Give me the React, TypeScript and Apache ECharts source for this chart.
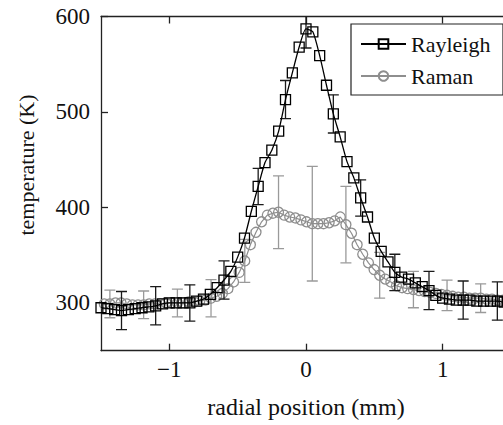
import React, { useEffect, useRef } from "react";
import * as echarts from "echarts";

// ---------- data ----------
const rayleighX = [
  -1.5, -1.45, -1.4, -1.35, -1.3, -1.25, -1.2, -1.15, -1.1, -1.05,
  -1.0, -0.95, -0.9, -0.85, -0.8, -0.75, -0.7, -0.65, -0.6, -0.55,
  -0.5, -0.45, -0.4, -0.35, -0.3, -0.25, -0.2, -0.15, -0.1, -0.05,
  0, 0.05, 0.1, 0.15, 0.2, 0.25, 0.3, 0.35, 0.4, 0.45,
  0.5, 0.55, 0.6, 0.65, 0.7, 0.75, 0.8, 0.85, 0.9, 0.95,
  1.0, 1.05, 1.1, 1.15, 1.2, 1.25, 1.3, 1.35, 1.4, 1.45, 1.5,
];
const rayleighT = [
  295, 294, 293, 292, 293, 294, 295, 296, 297, 299,
  300, 300, 300, 300, 302, 304, 309, 316, 324, 333,
  348, 368, 396, 422, 447, 460, 480, 513, 541, 568,
  587, 584, 559, 528, 498, 474, 448, 431, 410, 390,
  368, 354, 343, 332, 327, 325, 321, 317, 313, 308,
  305, 304, 303, 303, 303, 302, 302, 302, 302, 301, 301,
];
const rayleighErrIdx = [3, 8, 13, 18, 23, 27, 30, 34, 38, 43, 48, 53, 58];
const rayleighErr = [20, 20, 19, 20, 19, 20, 20, 20, 19, 19, 20, 20, 20];

const ramanX = [
  -1.476, -1.435, -1.394, -1.353, -1.312, -1.27, -1.229, -1.188, -1.147, -1.106,
  -1.065, -1.024, -0.983, -0.941, -0.9, -0.859, -0.818, -0.777, -0.736, -0.695,
  -0.654, -0.612, -0.571, -0.53, -0.489, -0.448, -0.407, -0.366, -0.325, -0.283,
  -0.242, -0.201, -0.16, -0.119, -0.078, -0.037, 0.004, 0.046, 0.087, 0.128,
  0.169, 0.21, 0.251, 0.292, 0.333, 0.374, 0.415, 0.457, 0.498, 0.539,
  0.58, 0.621, 0.662, 0.703, 0.744, 0.786, 0.827, 0.868, 0.909, 0.95,
  0.991, 1.032, 1.073, 1.114, 1.155, 1.196, 1.237, 1.278, 1.32, 1.361,
  1.402, 1.443, 1.484,
];
const ramanT = [
  299, 299, 300, 300, 299, 298, 298, 298, 299, 299,
  299, 300, 300, 300, 300, 301, 301, 302, 303, 305,
  307, 310, 315, 322, 332, 344, 361, 374, 385, 392,
  394, 395, 392, 390, 389, 387, 385, 383, 383, 383,
  384, 386, 390, 382, 373, 361, 351, 342, 335, 329,
  325, 322, 318, 316, 315, 314, 313, 312, 311, 310,
  309, 308, 307, 306, 306, 305, 305, 305, 304, 304,
  303, 303, 302,
];
const ramanErrIdx = [1, 7, 13, 19, 25, 31, 37, 43, 49, 55, 61, 67];
const ramanErr = [14.5, 14.5, 14.5, 19.5, 22.5, 38, 60, 40, 24, 19, 16, 15];

const xTicks = [-1, 0, 1];
const yTicks = [300, 400, 500, 600];

const FONT = "'Liberation Serif', 'Times New Roman', 'DejaVu Serif', serif";
const W = 520;
const H = 425;

function errData(xs: number[], ys: number[], idx: number[], err: number[]) {
  return idx.map((i, k) => [xs[i], ys[i] - err[k], ys[i] + err[k]]);
}

function makeErrRender(color: string) {
  return (params: any, api: any) => {
    const x = api.value(0);
    const lo = api.coord([x, api.value(1)]);
    const hi = api.coord([x, api.value(2)]);
    const c = 5.5;
    const style = { stroke: color, lineWidth: 1.3 };
    return {
      type: "group",
      children: [
        { type: "line", shape: { x1: lo[0], y1: lo[1], x2: hi[0], y2: hi[1] }, style },
        { type: "line", shape: { x1: lo[0] - c, y1: lo[1], x2: lo[0] + c, y2: lo[1] }, style },
        { type: "line", shape: { x1: hi[0] - c, y1: hi[1], x2: hi[0] + c, y2: hi[1] }, style },
      ],
    };
  };
}

export default function App() {
  const ref = useRef<HTMLDivElement>(null);
  useEffect(() => {
    if (!ref.current) return;
    const chart = echarts.init(ref.current, null, { renderer: "svg" });
    const axisColor = "#222";
    const fmt = (v: number) => (v < 0 ? "\u2212" + Math.abs(v) : String(v));
    const xAxisBase = {
      type: "value",
      min: -1.5,
      max: 1.5,
      axisLine: { show: true, onZero: false, lineStyle: { color: axisColor, width: 1.3 } },
      axisTick: { show: true, inside: true, length: 7, customValues: xTicks, lineStyle: { color: axisColor, width: 1.3 } },
      splitLine: { show: false },
    };
    const yAxisBase = {
      type: "value",
      min: 250,
      max: 600,
      axisLine: { show: true, onZero: false, lineStyle: { color: axisColor, width: 1.3 } },
      axisTick: { show: true, inside: true, length: 7, customValues: yTicks, lineStyle: { color: axisColor, width: 1.3 } },
      splitLine: { show: false },
    };
    chart.setOption({
      animation: false,
      backgroundColor: "#ffffff",
      textStyle: { fontFamily: FONT },
      grid: {
        left: 101,
        top: 16.5,
        right: W - 511,
        bottom: H - 350.7,
        containLabel: false,
        outerBoundsMode: "none",
      },
      xAxis: [
        {
          ...xAxisBase,
          position: "bottom",
          axisLabel: { customValues: xTicks, formatter: fmt, fontSize: 23, color: "#111", margin: 7, fontFamily: FONT },
        },
        { ...xAxisBase, position: "top", axisLabel: { show: false } },
      ],
      yAxis: [
        {
          ...yAxisBase,
          position: "left",
          axisLabel: { customValues: yTicks, fontSize: 23, color: "#111", margin: 11, fontFamily: FONT },
        },
        { ...yAxisBase, position: "right", axisLabel: { show: false } },
      ],
      legend: {
        data: ["Rayleigh", "Raman"],
        orient: "vertical",
        left: 360,
        top: 33,
        itemWidth: 45,
        itemHeight: 12,
        itemGap: 10,
        padding: 0,
        textStyle: { fontSize: 22, color: "#111", fontFamily: FONT, lineHeight: 20 },
      },
      graphic: [
        {
          type: "rect",
          shape: { x: 351, y: 24, width: 152, height: 71 },
          style: { fill: "none", stroke: "#222", lineWidth: 1.2 },
          z: 10,
        },
        {
          type: "text",
          x: 306,
          y: 407,
          style: { text: "radial position (mm)", fontSize: 24, fontFamily: FONT, fill: "#111", textAlign: "center", textVerticalAlign: "middle" },
        },
        {
          type: "text",
          x: 26,
          y: 165,
          rotation: Math.PI / 2,
          style: { text: "temperature (K)", fontSize: 22, fontFamily: FONT, fill: "#111", textAlign: "center", textVerticalAlign: "middle" },
        },
      ],
      series: [
        {
          type: "custom",
          name: "raman-err",
          silent: true,
          clip: true,
          renderItem: makeErrRender("#9a9a9a"),
          encode: { x: 0, y: [1, 2] },
          data: errData(ramanX, ramanT, ramanErrIdx, ramanErr),
          z: 1,
        },
        {
          type: "line",
          name: "Raman",
          data: ramanX.map((x, i) => [x, ramanT[i]]),
          symbol: "circle",
          symbolSize: 10,
          showSymbol: true,
          lineStyle: { color: "#8e8e8e", width: 1.2 },
          itemStyle: { color: "rgba(255,255,255,0)", borderColor: "#8e8e8e", borderWidth: 1.3 },
          clip: true,
          z: 2,
        },
        {
          type: "custom",
          name: "rayleigh-err",
          silent: true,
          clip: true,
          renderItem: makeErrRender("#1a1a1a"),
          encode: { x: 0, y: [1, 2] },
          data: errData(rayleighX, rayleighT, rayleighErrIdx, rayleighErr),
          z: 3,
        },
        {
          type: "line",
          name: "Rayleigh",
          data: rayleighX.map((x, i) => [x, rayleighT[i]]),
          symbol: "rect",
          symbolSize: 10,
          showSymbol: true,
          smooth: 0.2,
          lineStyle: { color: "#000", width: 1.3 },
          itemStyle: { color: "rgba(255,255,255,0)", borderColor: "#000", borderWidth: 1.3 },
          clip: true,
          z: 4,
        },
      ],
    });
    return () => chart.dispose();
  }, []);
  return (
    <div style={{ position: "fixed", left: 0, top: 0, width: 503, height: 425, overflow: "hidden", background: "#fff" }}>
      <div ref={ref} style={{ width: W, height: H }} />
    </div>
  );
}
